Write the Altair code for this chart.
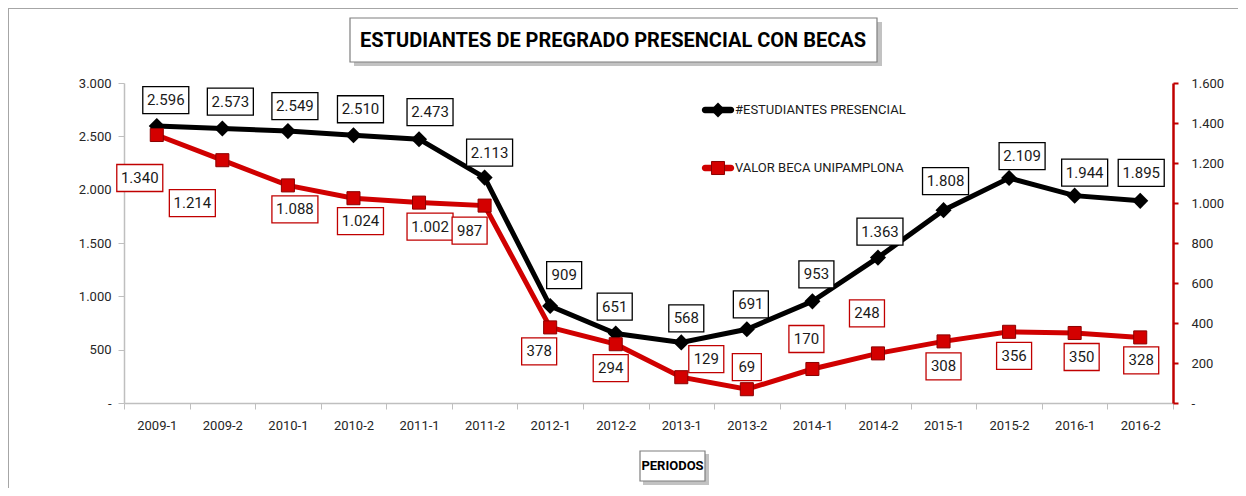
import altair as alt
import pandas as pd

# ---------------- data ----------------
periodos = ["2009-1", "2009-2", "2010-1", "2010-2", "2011-1", "2011-2", "2012-1", "2012-2",
            "2013-1", "2013-2", "2014-1", "2014-2", "2015-1", "2015-2", "2016-1", "2016-2"]
estudiantes = [2596, 2573, 2549, 2510, 2473, 2113, 909, 651, 568, 691, 953, 1363, 1808, 2109, 1944, 1895]
valor_beca = [1340, 1214, 1088, 1024, 1002, 987, 378, 294, 129, 69, 170, 248, 308, 356, 350, 328]

serie_est = "#ESTUDIANTES PRESENCIAL"
serie_beca = "VALOR BECA UNIPAMPLONA"
titulo = "ESTUDIANTES DE PREGRADO PRESENCIAL CON BECAS"
titulo_x = "PERIODOS"

# label placement nudges (pixels, relative to each point)
est_dx = [9, 8, 7, 7, 11, 5, 14, -1, 5, 4, 4, 2, 2, 13, 10, 1]
est_dy = [-26, -27, -25, -26, -27, -25, -31, -27, -24, -25, -27, -26, -29, -22, -23, -28]
beca_dx = [-17, -30, 7, 7, 11, -15, -11, -5, 25, 0, -6, -11, 0, 5, 7, 1]
beca_dy = [43, 43, 24, 23, 24, 25, 24, 24, -18, -22, -30, -40, 25, 24, 24, 23]

# ---------------- styling ----------------
FONT = "Roboto, Liberation Sans, sans-serif"
RED = "#c00000"
W, H = 1049, 320
EST_MAX, BECA_MAX = 3000, 1600
HALF_BAND = W / len(periodos) / 2


def fmt(v):
    return f"{v:,}".replace(",", ".")


df = pd.DataFrame({
    "periodo": periodos,
    "est": estudiantes,
    "beca": valor_beca,
    "est_lbl": [fmt(v) for v in estudiantes],
    "beca_lbl": [fmt(v) for v in valor_beca],
    "est_dx": est_dx, "est_dy": est_dy,
    "beca_dx": beca_dx, "beca_dy": beca_dy,
})
df["est_n"] = df["est_lbl"].str.len().astype(str)
df["beca_n"] = df["beca_lbl"].str.len().astype(str)


# custom rectangular label-box paths (unit = 10 px at size 400)
def box(hw, hh=1.35):
    return f"M{-hw},{-hh}L{hw},{-hh}L{hw},{hh}L{-hw},{hh}Z"


box_domain = ["2", "3", "5"]
box_range = [box(1.45), box(1.75), box(2.3)]

num_expr = "datum.value == 0 ? '-' : replace(format(datum.value, ','), ',', '.')"

x_enc = alt.X(
    "periodo:N", sort=periodos,
    scale=alt.Scale(type="band", paddingInner=0, paddingOuter=0),
    axis=alt.Axis(title=None, labelAngle=0, tickBand="extent", domainColor="#bfbfbf",
                  tickColor="#bfbfbf", tickSize=6, labelPadding=10, labelFont=FONT,
                  labelFontSize=13, labelColor="#262626", domainWidth=1.5),
)


def y_est(field):
    return alt.Y(
        f"{field}:Q", scale=alt.Scale(domain=[0, EST_MAX]),
        axis=alt.Axis(title=None, values=[0, 500, 1000, 1500, 2000, 2500, 3000], grid=False,
                      labelExpr=num_expr, domainColor="#bfbfbf", tickColor="#bfbfbf",
                      tickSize=6, labelPadding=7, labelFont=FONT, labelFontSize=13,
                      labelColor="#262626", domainWidth=1.5),
    )


def y_beca(field):
    return alt.Y(
        f"{field}:Q", scale=alt.Scale(domain=[0, BECA_MAX]),
        axis=alt.Axis(title=None, orient="right",
                      values=[0, 200, 400, 600, 800, 1000, 1200, 1400, 1600],
                      grid=False, labelExpr=num_expr, domainColor=RED, tickColor=RED,
                      domainWidth=2.5, tickWidth=2, tickSize=5, labelPadding=13, labelFont=FONT,
                      labelFontSize=13, labelColor="#262626"),
    )


base = alt.Chart(df).transform_calculate(
    est_ly=f"datum.est - datum.est_dy * {EST_MAX} / {H}",
    beca_ly=f"datum.beca - datum.beca_dy * {BECA_MAX} / {H}",
    est_ox=f"datum.est_dx + {HALF_BAND}",
    beca_ox=f"datum.beca_dx + {HALF_BAND}",
)

line_est = base.mark_line(color="black", strokeWidth=5).encode(x=x_enc, y=y_est("est"))
pts_est = base.mark_point(shape="diamond", filled=True, color="black", size=260, opacity=1).encode(
    x=x_enc, y=y_est("est"))
box_est = base.mark_point(filled=True, fill="white", stroke="black", strokeWidth=1.3, size=400,
                          opacity=1).encode(
    x=x_enc, y=y_est("est_ly"),
    xOffset=alt.XOffset("est_ox:Q", scale=None),
    shape=alt.Shape("est_n:N", scale=alt.Scale(domain=box_domain, range=box_range), legend=None),
)
txt_est = base.mark_text(font=FONT, fontSize=15, color="#1a1a1a", baseline="middle").encode(
    x=x_enc, y=y_est("est_ly"), text="est_lbl:N",
    xOffset=alt.XOffset("est_ox:Q", scale=None),
)
left = alt.layer(line_est, pts_est, box_est, txt_est)

line_beca = base.mark_line(color="#d00000", strokeWidth=5).encode(x=x_enc, y=y_beca("beca"))
pts_beca = base.mark_point(shape="square", filled=True, fill="#d40000", stroke="#8b0000",
                           strokeWidth=1, size=170, opacity=1).encode(x=x_enc, y=y_beca("beca"))
box_beca = base.mark_point(filled=True, fill="white", stroke=RED, strokeWidth=1.3, size=400,
                           opacity=1).encode(
    x=x_enc, y=y_beca("beca_ly"),
    xOffset=alt.XOffset("beca_ox:Q", scale=None),
    shape=alt.Shape("beca_n:N", scale=alt.Scale(domain=box_domain, range=box_range), legend=None),
)
txt_beca = base.mark_text(font=FONT, fontSize=15, color="#1a1a1a", baseline="middle").encode(
    x=x_enc, y=y_beca("beca_ly"), text="beca_lbl:N",
    xOffset=alt.XOffset("beca_ox:Q", scale=None),
)
right = alt.layer(line_beca, pts_beca, box_beca, txt_beca)

# ---------------- decorations ----------------
tdf = pd.DataFrame({"t": [titulo]})
frame = alt.Chart(tdf).mark_rect(filled=False, stroke="#a6a6a6", strokeWidth=2).encode(
    x=alt.value(-116), x2=alt.value(W + 200), y=alt.value(-75), y2=alt.value(H + 200))
t_shadow = alt.Chart(tdf).mark_rect(fill="#9a9a9a", opacity=0.6).encode(
    x=alt.value(230), x2=alt.value(758), y=alt.value(-61), y2=alt.value(-17))
t_box = alt.Chart(tdf).mark_rect(fill="white", stroke="#7f7f7f", strokeWidth=1.2).encode(
    x=alt.value(226), x2=alt.value(753), y=alt.value(-65), y2=alt.value(-21))
t_text = alt.Chart(tdf).mark_text(font=FONT, fontSize=20, fontWeight="bold", color="black",
                                  baseline="middle").encode(
    x=alt.value(489), y=alt.value(-42), text="t:N")

xdf = pd.DataFrame({"t": [titulo_x]})
x_shadow = alt.Chart(xdf).mark_rect(fill="#9a9a9a", opacity=0.6).encode(
    x=alt.value(519), x2=alt.value(585), y=alt.value(371), y2=alt.value(402))
x_box = alt.Chart(xdf).mark_rect(fill="white", stroke="#7f7f7f", strokeWidth=1.2).encode(
    x=alt.value(516), x2=alt.value(581), y=alt.value(368), y2=alt.value(398))
x_text = alt.Chart(xdf).mark_text(font=FONT, fontSize=13, fontWeight="bold", color="black",
                                  baseline="middle").encode(
    x=alt.value(548.5), y=alt.value(383), text="t:N")

# legend (drawn manually)
ldf = pd.DataFrame({"s": [serie_est, serie_beca]})
leg_line_path = "M-0.8,-0.2L0.8,-0.2A0.2,0.2 0 0 1 0.8,0.2L-0.8,0.2A0.2,0.2 0 0 1 -0.8,-0.2Z"
leg_est_line = alt.Chart(ldf.iloc[[0]]).mark_point(shape=leg_line_path, filled=True, color="black",
                                                  size=1050, opacity=1).encode(
    x=alt.value(594), y=alt.value(27))
leg_est_pt = alt.Chart(ldf.iloc[[0]]).mark_point(shape="diamond", filled=True, color="black",
                                                size=220, opacity=1).encode(
    x=alt.value(594), y=alt.value(27))
leg_est_txt = alt.Chart(ldf.iloc[[0]]).mark_text(font=FONT, fontSize=13, align="left",
                                                baseline="middle", color="#1a1a1a").encode(
    x=alt.value(611), y=alt.value(27), text="s:N")
leg_beca_line = alt.Chart(ldf.iloc[[1]]).mark_point(shape=leg_line_path, filled=True,
                                                   color="#d00000", size=1050, opacity=1).encode(
    x=alt.value(594), y=alt.value(85))
leg_beca_pt = alt.Chart(ldf.iloc[[1]]).mark_point(shape="square", filled=True, fill="#d40000",
                                                 stroke="#8b0000", strokeWidth=1, size=170,
                                                 opacity=1).encode(
    x=alt.value(594), y=alt.value(85))
leg_beca_txt = alt.Chart(ldf.iloc[[1]]).mark_text(font=FONT, fontSize=13, align="left",
                                                 baseline="middle", color="#1a1a1a").encode(
    x=alt.value(611), y=alt.value(85), text="s:N")

deco = alt.layer(frame, t_shadow, t_box, t_text, x_shadow, x_box, x_text,
                 leg_est_line, leg_est_pt, leg_est_txt, leg_beca_line, leg_beca_pt, leg_beca_txt)

chart = alt.layer(deco, left, right).resolve_scale(y="independent").properties(
    width=W, height=H,
    autosize=alt.AutoSizeParams(type="none"),
    padding={"left": 116, "top": 75, "right": 65, "bottom": 85},
    background="white",
).configure_view(stroke=None)

chart.save("out.html", embed_options={"renderer": "svg", "actions": False})
